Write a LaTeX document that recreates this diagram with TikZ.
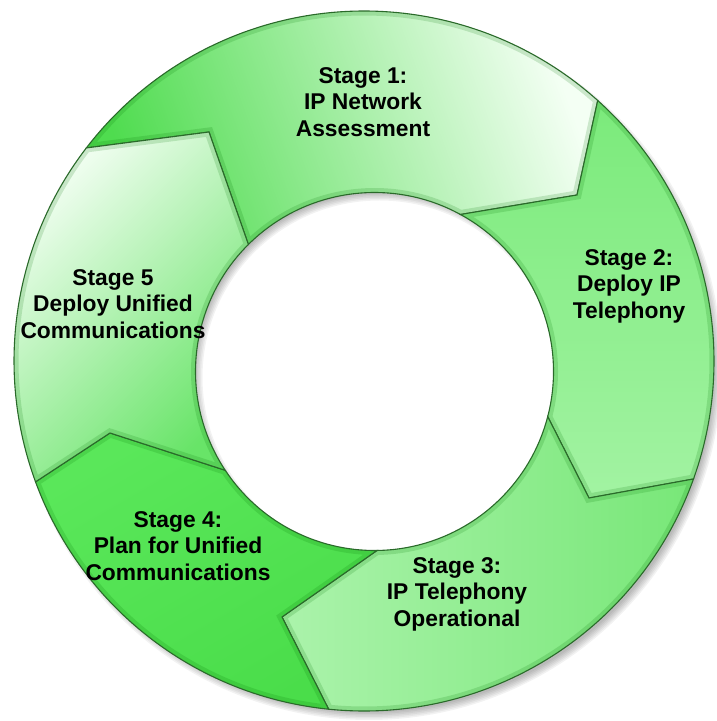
\documentclass[tikz,border=0pt]{standalone}
\usepackage{fontspec}
\setmainfont{Liberation Sans}
\usetikzlibrary{calc}

\definecolor{ringedge}{HTML}{2A6A2A}
\definecolor{oneA}{HTML}{F4FFF4}
\definecolor{oneB}{HTML}{4FDC4F}
\definecolor{twoA}{HTML}{7BEA7B}
\definecolor{twoB}{HTML}{A2F3A2}
\definecolor{threeA}{HTML}{ABF3AB}
\definecolor{threeB}{HTML}{78E778}
\definecolor{fourA}{HTML}{5AE75A}
\definecolor{fourB}{HTML}{4ADD4A}
\definecolor{fiveA}{HTML}{F8FFF8}
\definecolor{fiveB}{HTML}{68E468}

\tikzset{
  stagelabel/.style={font=\bfseries\fontsize{22.8}{26.5}\selectfont, align=center, inner sep=0pt},
  segedge/.style={draw=ringedge, line width=1.1pt},
  bevel/.style={draw=green!45!black, line width=9pt, opacity=.16},
}

\begin{document}
\begin{tikzpicture}[x=1pt, y=1pt]
\useasboundingbox (0,0) rectangle (716,721);

\coordinate (O) at (364,360);     % centre of the outer rim
\coordinate (I) at (374.5,349.5); % centre of the hole

% arrow tips between the stages
\coordinate (tip1) at (209,589);
\coordinate (tip2) at (577,526);
\coordinate (tip3) at (589,223);
\coordinate (tip4) at (282,104);
\coordinate (tip5) at (110,288);

% soft shadow below the ring
\foreach \k in {1,...,6}
  \fill[black, opacity=.05, even odd rule] ($(O)+(5,-6)$) circle[radius=344+1.5*\k] ($(I)+(5,-6)$) circle[radius=186-1.5*\k];

% the five arrow segments
\foreach \k/\n/\oa/\ob/\ia/\ib/\ctop/\cbot/\ang in {
  1/2/142.5/48.1/61.3/134.8/oneA/oneB/-70,
  2/3/48.1/-19.7/-14.6/61.3/twoA/twoB/0,
  3/4/-19.7/-95.8/-89.2/-14.6/threeA/threeB/90,
  4/5/-95.8/-159.8/-146.5/-89.2/fourA/fourB/30,
  5/1/-159.8/-217.5/-225.2/-146.5/fiveA/fiveB/45}
{
  \def\seg{(tip\k) -- ($(O)+(\oa:350)$) arc[start angle=\oa, end angle=\ob, radius=350]
    -- (tip\n) -- ($(I)+(\ia:179)$) arc[start angle=\ia, end angle=\ib, radius=179] -- cycle}
  \shade[top color=\ctop, bottom color=\cbot, shading angle=\ang] \seg;
  \begin{scope}
    \clip \seg;
    \draw[bevel] \seg;
  \end{scope}
  \draw[segedge] \seg;
}

% labels
\node[stagelabel] (stage1) at (363,619) {Stage 1:\\IP Network\\Assessment};
\node[stagelabel] (stage2) at (629,435) {Stage 2:\\Deploy IP\\Telephony};
\node[stagelabel] (stage3) at (457,127) {Stage 3:\\IP Telephony\\Operational};
\node[stagelabel] (stage4) at (178,175) {Stage 4:\\Plan for Unified\\Communications};
\node[stagelabel] (stage5) at (113,417) {Stage 5\\Deploy Unified\\Communications};

\end{tikzpicture}
\end{document}
